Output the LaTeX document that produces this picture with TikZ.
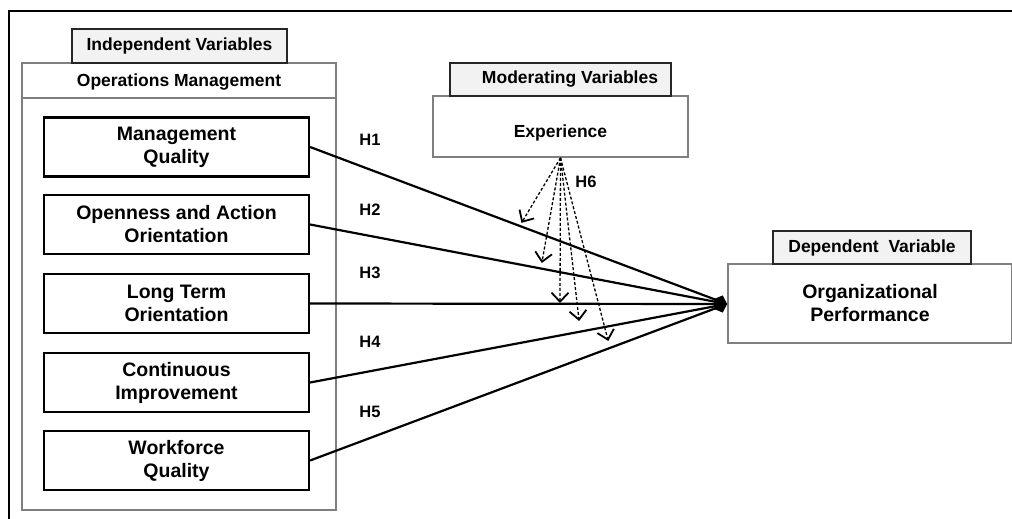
\documentclass[tikz,border=0pt]{standalone}
\usepackage{fontspec}
\setmainfont{Liberation Sans}
\usetikzlibrary{arrows.meta}

\definecolor{tabgray}{HTML}{F2F2F2}
\definecolor{boxgray}{HTML}{7F7F7F}

\tikzset{
  varbox/.style={draw=black,line width=2.2pt,minimum width=265pt,minimum height=59pt,
    align=center,inner sep=0pt,font=\fontsize{19.5}{23}\selectfont\bfseries},
  tabbox/.style={draw=black!85,line width=1.6pt,fill=tabgray,inner sep=0pt,
    font=\fontsize{17.5}{20}\selectfont\bfseries},
  groupbox/.style={draw=boxgray,line width=1.8pt,inner sep=0pt},
  hlabel/.style={font=\fontsize{16.5}{19}\selectfont\bfseries},
  hyp/.style={line width=2.2pt,-{Diamond[length=14pt,width=13pt]}},
  moder/.style={line width=1.3pt,dash pattern=on 3pt off 2pt,
    -{Straight Barb[length=9pt,width=17pt,line width=1.8pt,sep=-1pt]}}
}

\begin{document}
\begin{tikzpicture}[x=1pt,y=-1pt]
  \useasboundingbox (0,0) rectangle (1012,519);
  % frame
  \draw[line width=2.2pt] (9,540) -- (9,11) -- (1040,11);

  % independent variables
  \node[groupbox,minimum width=314pt,minimum height=447pt] (ops) at (179,286.5) {};
  \draw[boxgray,line width=1.8pt] (22,98) -- (336,98);
  \node[font=\fontsize{17.5}{20}\selectfont\bfseries] (opstitle) at (179,82) {Operations Management};
  \node[tabbox,minimum width=215pt,minimum height=34pt] (indtab) at (179.5,46) {Independent Variables};

  \node[varbox] (mq) at (176.5,147) {Management\\Quality};
  \node[varbox] (oa) at (176.5,224.5) {Openness and Action\\Orientation};
  \node[varbox] (lt) at (176.5,303.5) {Long Term\\Orientation};
  \node[varbox] (ci) at (176.5,382.5) {Continuous\\Improvement};
  \node[varbox] (wq) at (176.5,460.5) {Workforce\\Quality};

  % moderating variable
  \node[groupbox,minimum width=255pt,minimum height=61pt,
        font=\fontsize{17.5}{20}\selectfont\bfseries] (exp) at (560.5,126.5)
        {\raisebox{-4pt}[13pt][0pt]{Experience}};
  \node[tabbox,minimum width=221pt,minimum height=33pt] (modtab) at (560.5,79.5) {\hspace*{19pt}Moderating Variables};

  % dependent variable
  \node[groupbox,minimum width=284pt,minimum height=79pt,align=center,
        font=\fontsize{19.5}{23}\selectfont\bfseries] (perf) at (870,303.5) {Organizational\\Performance};
  \node[tabbox,minimum width=198pt,minimum height=33pt] (deptab) at (872,247.5) {Dependent~~Variable};

  % hypotheses
  \coordinate (hub) at (727,304);
  \draw[hyp] (mq.east) -- (hub);
  \draw[hyp] (oa.east) -- (hub);
  \draw[hyp] (lt.east) -- (hub);
  \draw[hyp] (ci.east) -- (hub);
  \draw[hyp] (wq.east) -- (hub);

  \node[hlabel] (h1) at (370,140) {H1};
  \node[hlabel] (h2) at (370,210) {H2};
  \node[hlabel] (h3) at (370,273) {H3};
  \node[hlabel] (h4) at (370,342) {H4};
  \node[hlabel] (h5) at (370,412) {H5};
  \node[hlabel] (h6) at (586,182) {H6};

  % moderation
  \coordinate (m1) at (522,222);
  \coordinate (m2) at (542,262);
  \coordinate (m3) at (560,302);
  \coordinate (m4) at (579,320);
  \coordinate (m5) at (608,340);
  \draw[moder] (exp.south) -- (m1);
  \draw[moder] (exp.south) -- (m2);
  \draw[moder] (exp.south) -- (m3);
  \draw[moder] (exp.south) -- (m4);
  \draw[moder] (exp.south) -- (m5);
\end{tikzpicture}
\end{document}
